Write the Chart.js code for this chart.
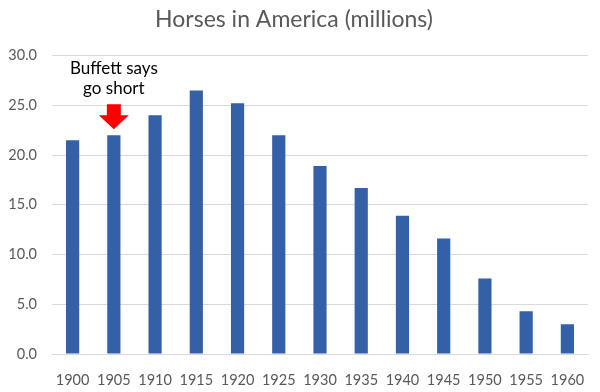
<!DOCTYPE html>
<html>
<head>
<meta charset="utf-8">
<script src="https://cdn.jsdelivr.net/npm/chart.js@4"></script>
<style>
  html, body { margin: 0; padding: 0; background: #fff; }
  #wrap { width: 600px; height: 392px; }
</style>
</head>
<body>
<div id="wrap"><canvas id="horses" width="600" height="392"></canvas></div>
<script>
// data
const years = ['1900', '1905', '1910', '1915', '1920', '1925', '1930', '1935', '1940', '1945', '1950', '1955', '1960'];
const horses = [21.5, 22.0, 24.0, 26.5, 25.2, 22.0, 18.9, 16.7, 13.9, 11.6, 7.6, 4.3, 3.0];
const noteYear = '1905';
const noteLines = ['Buffett says', 'go short'];

// red arrow + text above the 1905 bar
const buffettNote = {
    id: 'buffettNote',
    afterDatasetsDraw(chart) {
        const ctx = chart.ctx;
        const x = chart.scales.x.getPixelForValue(years.indexOf(noteYear));
        const barTop = chart.scales.y.getPixelForValue(horses[years.indexOf(noteYear)]);
        const tip = barTop - 6;
        ctx.save();
        ctx.fillStyle = '#FF0000';
        ctx.beginPath();
        ctx.moveTo(x - 7, tip - 25);
        ctx.lineTo(x + 7, tip - 25);
        ctx.lineTo(x + 7, tip - 14);
        ctx.lineTo(x + 15, tip - 14);
        ctx.lineTo(x, tip);
        ctx.lineTo(x - 15, tip - 14);
        ctx.lineTo(x - 7, tip - 14);
        ctx.closePath();
        ctx.fill();

        ctx.fillStyle = '#000';
        ctx.font = '17px Lato';
        ctx.textAlign = 'center';
        ctx.textBaseline = 'middle';
        ctx.fillText(noteLines[0], x, tip - 61);
        ctx.fillText(noteLines[1], x, tip - 41);
        ctx.restore();
    }
};

document.addEventListener("DOMContentLoaded", function () {
    const ctx = document.getElementById('horses').getContext('2d');

    new Chart(ctx, {
        type: 'bar',
        data: {
            labels: years,
            datasets: [{
                data: horses,
                backgroundColor: '#3460A8',
                barPercentage: 0.32,
                categoryPercentage: 1
            }]
        },
        options: {
            responsive: false,
            animation: false,
            layout: { padding: { left: 0, right: 12, top: 0, bottom: 0 } },
            plugins: {
                legend: { display: false },
                tooltip: { enabled: false },
                title: {
                    display: true,
                    text: 'Horses in America (millions)',
                    color: '#595959',
                    font: { family: 'Lato', size: 23, weight: 'normal' },
                    padding: { top: 6, bottom: 22 }
                }
            },
            scales: {
                x: {
                    grid: { display: false },
                    border: { color: '#D9D9D9' },
                    ticks: {
                        color: '#595959',
                        font: { family: 'Lato', size: 14.5 },
                        padding: 10
                    },
                    afterFit(s) { s.height = 38; }
                },
                y: {
                    min: 0,
                    max: 30,
                    grid: { color: '#D9D9D9', drawTicks: false },
                    border: { display: false },
                    ticks: {
                        stepSize: 5,
                        color: '#595959',
                        font: { family: 'Lato', size: 14.5 },
                        padding: 15,
                        callback: v => v.toFixed(1)
                    },
                    afterFit(s) { s.width = 52; }
                }
            }
        },
        plugins: [buffettNote]
    });
});
</script>
</body>
</html>
